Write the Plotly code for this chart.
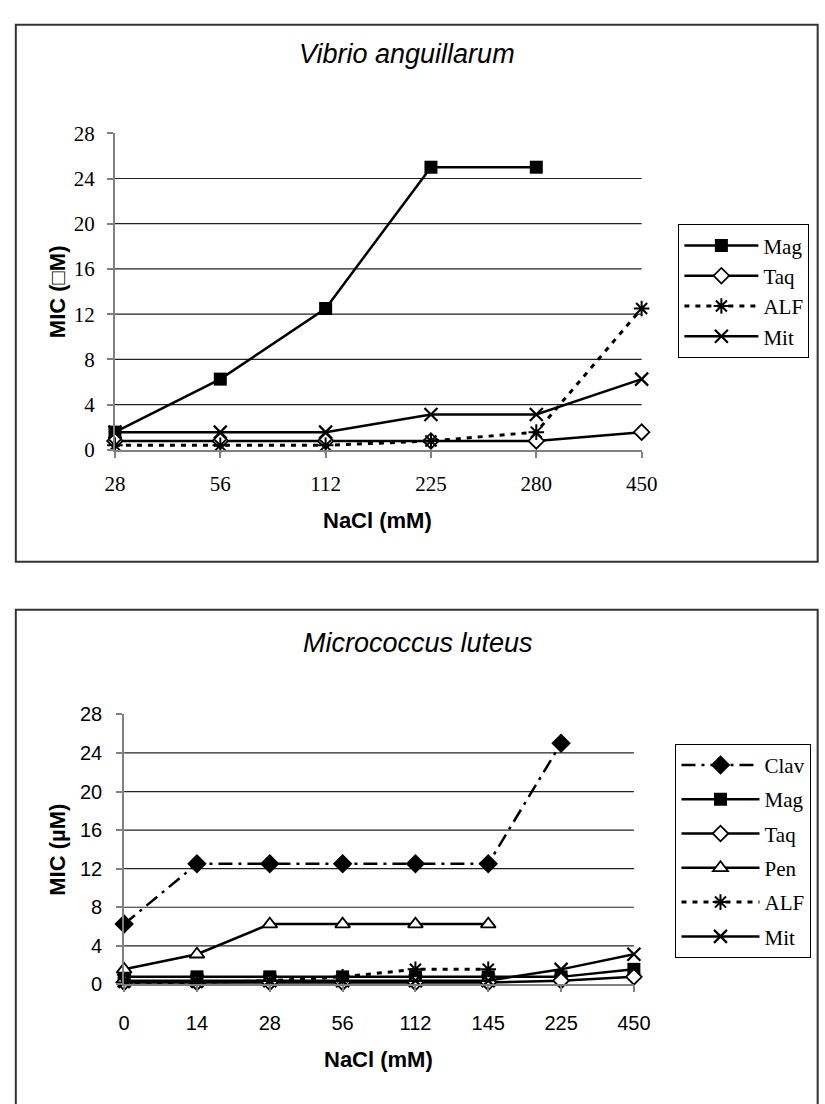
import plotly.graph_objects as go

# ---------------- data ----------------
top_cats = ["28", "56", "112", "225", "280", "450"]
top_mag = [1.56, 6.25, 12.5, 25, 25, None]
top_taq = [0.78, 0.78, 0.78, 0.78, 0.78, 1.56]
top_alf = [0.39, 0.39, 0.39, 0.78, 1.56, 12.5]
top_mit = [1.56, 1.56, 1.56, 3.125, 3.125, 6.25]

bot_cats = ["0", "14", "28", "56", "112", "145", "225", "450"]
bot_clav = [6.25, 12.5, 12.5, 12.5, 12.5, 12.5, 25, None]
bot_mag = [0.78, 0.78, 0.78, 0.78, 0.78, 0.78, 0.78, 1.56]
bot_taq = [0.2, 0.2, 0.2, 0.2, 0.2, 0.2, 0.39, 0.78]
bot_pen = [1.56, 3.125, 6.25, 6.25, 6.25, 6.25, None, None]
bot_alf = [0.2, 0.2, 0.39, 0.78, 1.56, 1.56, None, None]
bot_mit = [0.39, 0.39, 0.39, 0.39, 0.39, 0.39, 1.56, 3.125]

y_ticks = [0, 4, 8, 12, 16, 20, 24, 28]
grid_vals = [4, 8, 12, 16, 20, 24]

W, H = 825, 1104
def px(x):
    return x / W
def py(y):
    return 1 - y / H

SERIF = "Liberation Serif, Times New Roman, serif"
SANS = "Liberation Sans, Arial, sans-serif"

styles = {
    "Mag": dict(marker=dict(symbol="square", size=13, color="black"), line=dict(color="black", width=2.5)),
    "Taq": dict(marker=dict(symbol="diamond", size=12, color="white", line=dict(color="black", width=1.8)), line=dict(color="black", width=2.5)),
    "ALF": dict(marker=dict(symbol="asterisk-open", size=13, color="black", line=dict(color="black", width=2)), line=dict(color="black", width=3, dash="5px,6px")),
    "Mit": dict(marker=dict(symbol="x-thin-open", size=13, color="black", line=dict(color="black", width=2.2)), line=dict(color="black", width=2.5)),
    "Clav": dict(marker=dict(symbol="diamond", size=15, color="black"), line=dict(color="black", width=2.5, dash="14px,6px,3px,6px")),
    "Pen": dict(marker=dict(symbol="triangle-up", size=13, color="white", line=dict(color="black", width=1.8)), line=dict(color="black", width=2.5)),
}

fig = go.Figure()

def add(name, cats, vals, xa, ya, leg):
    st = styles[name]
    fig.add_trace(go.Scatter(
        x=cats, y=vals, name=name, mode="lines+markers",
        xaxis=xa, yaxis=ya, legend=leg, legendgroup=leg + name,
        marker=st["marker"], line=st["line"], cliponaxis=False,
        connectgaps=False,
    ))

add("Mag", top_cats, top_mag, "x", "y", "legend")
add("Taq", top_cats, top_taq, "x", "y", "legend")
add("ALF", top_cats, top_alf, "x", "y", "legend")
add("Mit", top_cats, top_mit, "x", "y", "legend")

add("Clav", bot_cats, bot_clav, "x2", "y2", "legend2")
add("Mag", bot_cats, bot_mag, "x2", "y2", "legend2")
add("Taq", bot_cats, bot_taq, "x2", "y2", "legend2")
add("Pen", bot_cats, bot_pen, "x2", "y2", "legend2")
add("ALF", bot_cats, bot_alf, "x2", "y2", "legend2")
add("Mit", bot_cats, bot_mit, "x2", "y2", "legend2")

axis_common = dict(showgrid=False, zeroline=False, showline=True, linecolor="#808080",
                   linewidth=2, ticks="outside", ticklen=6, tickcolor="#808080", tickwidth=1.5)

fig.update_layout(
    width=W, height=H, margin=dict(l=0, r=0, t=0, b=0),
    paper_bgcolor="white", plot_bgcolor="white",
    xaxis=dict(type="category", domain=[px(108.5), px(653)], anchor="y",
               range=[0, len(top_cats) - 1], categoryorder="array", categoryarray=top_cats,
               tickfont=dict(family=SERIF, size=21, color="black"), ticklabelstandoff=8,
               **axis_common),
    yaxis=dict(domain=[py(447.5), py(124)], anchor="x", range=[0, 28], tickvals=y_ticks,
               tickfont=dict(family=SERIF, size=21, color="black"), ticklabelstandoff=8,
               **axis_common),
    xaxis2=dict(type="category", domain=[px(118), px(645)], anchor="y2",
                range=[0, len(bot_cats) - 1], categoryorder="array", categoryarray=bot_cats,
                tickfont=dict(family=SANS, size=20, color="black"), ticklabelstandoff=14,
                **axis_common),
    yaxis2=dict(domain=[py(994), py(718)], anchor="x2", range=[0, 28], tickvals=y_ticks,
                tickfont=dict(family=SANS, size=20, color="black"), ticklabelstandoff=10,
                **axis_common),
    legend=dict(x=px(691), y=py(217), xanchor="left", yanchor="top",
                bordercolor="black", borderwidth=1, bgcolor="white",
                font=dict(family=SERIF, size=21, color="black"),
                tracegroupgap=0, itemwidth=74, traceorder="grouped"),
    legend2=dict(x=px(688), y=py(748), xanchor="left", yanchor="top",
                 bordercolor="black", borderwidth=1, bgcolor="white",
                 font=dict(family=SERIF, size=21, color="black"),
                 tracegroupgap=4, itemwidth=78, traceorder="grouped"),
    showlegend=True,
)

# gridlines (no line at the top value)
for g in grid_vals:
    for xa, ya in (("x", "y"), ("x2", "y2")):
        fig.add_shape(type="line", xref=xa + " domain", yref=ya, x0=0, x1=1, y0=g, y1=g,
                      line=dict(color="#222222", width=1.2), layer="below")

# panel frames
fig.add_shape(type="rect", xref="paper", yref="paper", x0=px(6), x1=px(835), y0=py(562), y1=py(13),
              line=dict(color="#333333", width=2), layer="below")
fig.add_shape(type="rect", xref="paper", yref="paper", x0=px(6), x1=px(835), y0=py(1130), y1=py(611),
              line=dict(color="#333333", width=2), layer="below")

ann = []
ann.append(dict(text="<i>Vibrio anguillarum</i>", x=px(410), y=py(43)))
ann.append(dict(text="<i>Micrococcus luteus</i>", x=px(422), y=py(645)))
for a in ann:
    a.update(xref="paper", yref="paper", showarrow=False, xanchor="center", yanchor="middle",
             font=dict(family=SANS, size=27, color="black"))
axt = [
    dict(text="<b>NaCl (mM)</b>", x=px(380), y=py(520), textangle=0),
    dict(text="<b>NaCl (mM)</b>", x=px(381), y=py(1071), textangle=0),
    dict(text="<b>MIC (\u25a1M)</b>", x=px(49), y=py(286), textangle=-90),
    dict(text="<b>MIC (\u00b5M)</b>", x=px(49), y=py(856), textangle=-90),
]
for a in axt:
    a.update(xref="paper", yref="paper", showarrow=False, xanchor="center", yanchor="middle",
             font=dict(family=SANS, size=22, color="black"))
fig.update_layout(annotations=ann + axt)

fig.write_html("out.html", config={"displayModeBar": False},
               post_script="document.body.style.margin='0';document.body.style.overflow='hidden';")
